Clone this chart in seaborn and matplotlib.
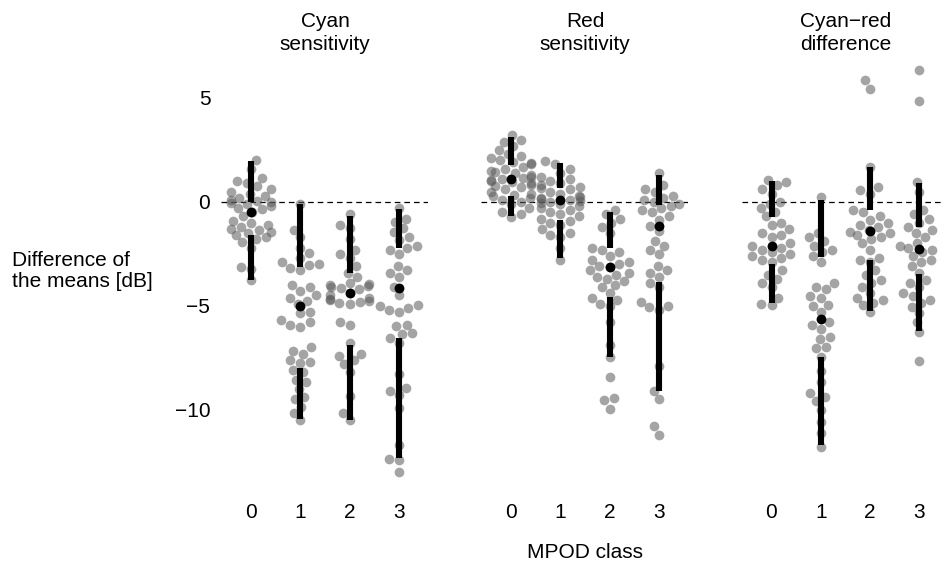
import numpy as np
import pandas as pd
import matplotlib
matplotlib.use("Agg")
import matplotlib.pyplot as plt
import seaborn as sns

# ---------------- data ----------------
panels = ["Cyan\nsensitivity", "Red\nsensitivity", "Cyan\u2212red\ndifference"]
classes = ["0", "1", "2", "3"]

cyan_0 = [2.0, 1.6, 1.15, 1.0, 0.9, 0.75, 0.6, 0.5, 0.4, 0.3, 0.2, 0.1, 0.05, 0.0, -0.05,
          -0.1, -0.2, -0.3, -0.35, -0.5, -0.7, -0.9, -1.0, -1.1, -1.2, -1.3, -1.35, -1.45,
          -1.5, -1.6, -1.7, -1.8, -1.95, -2.2, -3.15, -3.25, -3.75]
cyan_1 = [-0.1, -1.35, -1.7, -2.2, -2.45, -2.7, -2.9, -3.0, -3.05, -3.2, -3.3, -4.0, -4.1,
          -4.3, -4.5, -4.6, -4.75, -4.9, -5.3, -5.35, -5.7, -5.8, -5.9, -6.0, -7.0, -7.15,
          -7.3, -7.6, -7.7, -7.75, -8.1, -8.2, -8.55, -8.65, -9.0, -9.4, -9.5, -9.85,
          -10.15, -10.5]
cyan_2 = [-0.6, -1.1, -1.25, -1.8, -2.3, -2.5, -2.7, -3.1, -3.4, -3.6, -3.9, -3.95, -4.0,
          -4.05, -4.1, -4.15, -4.2, -4.4, -4.5, -4.6, -4.65, -4.7, -4.75, -4.8, -4.85, -4.9,
          -5.8, -5.9, -6.8, -7.3, -7.4, -7.6, -7.8, -8.2, -9.35, -10.15, -10.5]
cyan_3 = [-0.3, -0.8, -0.95, -1.25, -1.45, -1.7, -1.85, -2.1, -2.2, -2.3, -2.5, -3.1, -3.3,
          -3.4, -3.6, -4.1, -4.5, -4.95, -5.0, -5.1, -5.2, -5.3, -5.9, -5.95, -6.3, -6.35,
          -6.55, -6.8, -8.3, -8.95, -9.1, -9.3, -9.9, -11.7, -12.35, -12.4, -13.0]

red_0 = [3.2, 3.0, 2.9, 2.7, 2.5, 2.3, 2.2, 2.1, 2.0, 1.9, 1.85, 1.8, 1.7, 1.6, 1.5, 1.45,
         1.4, 1.3, 1.2, 1.15, 1.1, 1.05, 1.0, 0.95, 0.9, 0.8, 0.75, 0.7, 0.6, 0.5, 0.4,
         0.35, 0.3, 0.2, 0.1, 0.0, -0.1, -0.3, -0.5, -0.6, -0.75]
red_1 = [1.95, 1.8, 1.6, 1.4, 1.2, 1.1, 1.0, 0.9, 0.8, 0.7, 0.65, 0.6, 0.5, 0.4, 0.3, 0.25,
         0.2, 0.15, 0.1, 0.05, 0.0, -0.05, -0.1, -0.2, -0.3, -0.4, -0.5, -0.6, -0.7, -0.8,
         -0.9, -1.0, -1.1, -1.3, -1.5, -1.6, -1.7, -2.2, -2.8]
red_2 = [-0.4, -0.6, -0.8, -1.0, -1.2, -1.5, -2.2, -2.3, -2.4, -2.6, -2.8, -2.9, -3.0, -3.1,
         -3.15, -3.3, -3.4, -3.5, -3.6, -3.7, -3.8, -4.0, -4.1, -4.4, -4.6, -4.7, -4.9,
         -5.0, -5.8, -6.9, -7.45, -8.4, -9.45, -9.55, -9.95]
red_3 = [1.4, 0.8, 0.6, 0.5, 0.3, 0.2, 0.1, 0.0, -0.1, -0.2, -0.3, -0.4, -0.5, -0.7, -0.85,
         -1.15, -1.4, -1.9, -2.1, -2.3, -2.5, -3.1, -3.3, -3.4, -3.6, -3.9, -4.1, -4.8,
         -5.0, -5.05, -5.2, -7.9, -9.1, -9.5, -10.8, -11.2]

diff_0 = [1.05, 0.95, 0.8, 0.6, 0.4, 0.0, -0.1, -0.3, -0.5, -0.7, -1.0, -1.1, -1.3, -1.5,
          -1.6, -1.7, -2.0, -2.1, -2.2, -2.3, -2.4, -2.5, -2.6, -2.7, -2.8, -2.9, -3.3,
          -3.5, -3.7, -3.9, -4.1, -4.6, -4.9, -4.95]
diff_1 = [0.25, -1.5, -1.7, -1.9, -2.1, -2.3, -2.4, -2.6, -2.9, -3.9, -4.1, -4.2, -4.55,
          -4.6, -4.95, -5.0, -5.3, -5.8, -5.9, -6.1, -6.5, -6.6, -7.0, -7.05, -7.45, -8.15,
          -8.65, -9.2, -9.4, -9.6, -10.0, -10.6, -11.1, -11.8]
diff_2 = [5.85, 5.45, 1.7, 0.7, 0.55, 0.4, -0.4, -0.5, -0.7, -0.85, -1.0, -1.1, -1.2,
          -1.35, -1.45, -1.5, -1.6, -1.7, -1.8, -2.0, -2.3, -2.7, -2.8, -2.9, -3.3, -3.5,
          -3.75, -3.9, -4.1, -4.4, -4.6, -4.7, -4.85, -4.95, -5.3]
diff_3 = [6.35, 4.85, 0.95, 0.5, -0.4, -0.6, -0.8, -1.0, -1.2, -1.35, -1.5, -1.7, -2.0,
          -2.1, -2.2, -2.3, -2.4, -2.6, -2.8, -2.9, -3.1, -3.4, -3.75, -3.9, -4.1, -4.4,
          -4.55, -4.7, -4.85, -5.05, -5.35, -5.8, -6.25, -7.65]

# Tufte-style box summaries per class (whisker top, upper quartile, median, lower quartile, whisker bottom)
cyan_hi = [1.95, -0.1, -0.7, -0.35]
cyan_q3 = [0.0, -3.15, -3.4, -2.2]
cyan_med = [-0.47, -5.03, -4.36, -4.14]
cyan_q1 = [-1.6, -8.0, -6.87, -6.55]
cyan_lo = [-3.75, -10.45, -10.5, -12.3]

red_hi = [3.14, 1.89, -0.5, 1.3]
red_q3 = [1.78, 0.66, -2.2, -0.14]
red_med = [1.1, 0.1, -3.11, -1.15]
red_q1 = [0.29, -0.87, -4.57, -3.83]
red_lo = [-0.7, -2.7, -7.44, -9.12]

diff_hi = [1.02, 0.1, 1.67, 0.9]
diff_q3 = [-0.74, -2.63, -0.38, -1.19]
diff_med = [-2.1, -5.64, -1.39, -2.28]
diff_q1 = [-2.98, -7.48, -2.79, -3.46]
diff_lo = [-4.87, -11.68, -5.27, -6.23]

y_ticks = [5, 0, -5, -10]

# ---------------- assemble ----------------
raw = {
    panels[0]: [cyan_0, cyan_1, cyan_2, cyan_3],
    panels[1]: [red_0, red_1, red_2, red_3],
    panels[2]: [diff_0, diff_1, diff_2, diff_3],
}
summ = {
    panels[0]: (cyan_hi, cyan_q3, cyan_med, cyan_q1, cyan_lo),
    panels[1]: (red_hi, red_q3, red_med, red_q1, red_lo),
    panels[2]: (diff_hi, diff_q3, diff_med, diff_q1, diff_lo),
}
rows = []
for p in panels:
    for c, vals in zip(classes, raw[p]):
        for v in vals:
            rows.append({"panel": p, "mpod": c, "value": v})
df = pd.DataFrame(rows)

# ---------------- draw ----------------
sns.set_style("white")
plt.rcParams["font.family"] = ["Liberation Sans", "DejaVu Sans"]
plt.rcParams["axes.unicode_minus"] = True
plt.rcParams["text.color"] = "black"
plt.rcParams["xtick.color"] = "black"
plt.rcParams["ytick.color"] = "black"
plt.rcParams["xtick.labelcolor"] = "black"
plt.rcParams["ytick.labelcolor"] = "black"

W, H = 944, 567
fig = plt.figure(figsize=(W / 100, H / 100), dpi=100)

unit = 49.3
ax_w = 4.2 * unit
lefts = [251 - 0.6 * unit, 511 - 0.6 * unit, 771.5 - 0.6 * unit]
top_px, bot_px = 51, 490
FS = 15

for i, p in enumerate(panels):
    ax = fig.add_axes([lefts[i] / W, (H - bot_px) / H, ax_w / W, (bot_px - top_px) / H])
    sub = df[df["panel"] == p]
    ax.axhline(0, color="black", lw=0.9, ls=(0, (4.5, 3.2)), zorder=1)
    sns.swarmplot(data=sub, x="mpod", y="value", order=classes, color="#5a5a5a",
                  alpha=0.55, size=7.0, linewidth=0, warn_thresh=1,
                  ax=ax, zorder=2)
    hi, q3, med, q1, lo = summ[p]
    pos = np.arange(len(classes))
    ax.vlines(pos, q3, hi, color="black", lw=4.4, zorder=3, capstyle="butt")
    ax.vlines(pos, lo, q1, color="black", lw=4.4, zorder=3, capstyle="butt")
    ax.scatter(pos, med, s=50, color="black", zorder=4, linewidths=0)
    ax.set_xlim(-0.6, 3.6)
    ax.set_ylim(-13.86, 7.26)
    for s in ax.spines.values():
        s.set_visible(False)
    ax.set_xlabel("")
    ax.set_ylabel("")
    ax.tick_params(axis="x", length=0, pad=9, labelsize=FS, labelcolor="black")
    if i == 0:
        ax.set_yticks(y_ticks)
        ax.set_yticklabels(["5", "0", "\u22125", "\u221210"])
        ax.tick_params(axis="y", length=0, pad=8, labelsize=FS, labelcolor="black")
    else:
        ax.set_yticks([])
    ax.grid(False)
    ax.set_facecolor("white")
    cx = (lefts[i] + ax_w / 2) / W
    fig.text(cx, 1 - 33 / H, p, ha="center", va="center", fontsize=FS,
             linespacing=1.3, color="black")

fig.text(12 / W, 1 - 271 / H, "Difference of\nthe means [dB]", ha="left",
         va="center", fontsize=FS, multialignment="left", linespacing=1.08,
         color="black")
fig.text(585 / W, 1 - 552 / H, "MPOD class", ha="center", va="center", fontsize=FS,
         color="black")

fig.savefig("out.png", dpi=100, facecolor="white")
